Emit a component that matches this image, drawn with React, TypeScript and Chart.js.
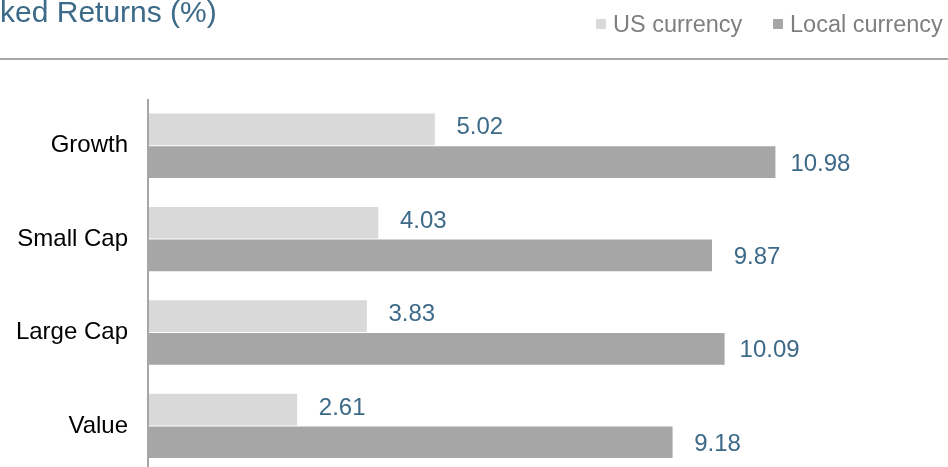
import React, { useEffect, useRef } from "react";
import { Chart, registerables } from "chart.js";

Chart.register(...registerables);

const categories = ["Growth", "Small Cap", "Large Cap", "Value"];
const usCurrency = [5.02, 4.03, 3.83, 2.61];
const localCurrency = [10.98, 9.87, 10.09, 9.18];
const seriesNames = ["US currency", "Local currency"];
const titleText = "Ranked Returns (%)";

const FONT = '"Liberation Sans", Arial, sans-serif';
const US_COLOR = "#d9d9d9";
const LOCAL_COLOR = "#a6a6a6";
const LABEL_COLOR = "#3d6a88";

const decorPlugin = {
  id: "decor",
  afterDraw(chart: any) {
    const ctx = chart.ctx;
    ctx.save();
    ctx.textBaseline = "alphabetic";
    // title
    ctx.font = `30px ${FONT}`;
    ctx.fillStyle = LABEL_COLOR;
    ctx.textAlign = "left";
    ctx.fillText(titleText, -55, 22);
    // rule
    ctx.fillStyle = "#a6a6a6";
    ctx.fillRect(0, 58, chart.width, 2);
    // legend
    const items = [
      { text: seriesNames[0], color: US_COLOR, box: 596 },
      { text: seriesNames[1], color: LOCAL_COLOR, box: 773 },
    ];
    ctx.font = `23.5px ${FONT}`;
    items.forEach((it) => {
      ctx.fillStyle = it.color;
      ctx.fillRect(it.box, 19, 10, 10);
      ctx.fillStyle = "#7f7f7f";
      ctx.fillText(it.text, it.box + 17, 32);
    });
    // data labels
    ctx.font = `24px ${FONT}`;
    ctx.fillStyle = LABEL_COLOR;
    ctx.textAlign = "center";
    chart.data.datasets.forEach((ds: any, di: number) => {
      const meta = chart.getDatasetMeta(di);
      meta.data.forEach((bar: any, i: number) => {
        const v = ds.data[i];
        const dy = di === 0 ? 5 : 8.5;
        ctx.fillText(v.toFixed(2), bar.x + 45, bar.y + dy);
      });
    });
    // axis line
    const a = chart.chartArea;
    ctx.fillStyle = "#a6a6a6";
    ctx.fillRect(a.left - 1, a.top, 2, a.bottom - a.top);
    ctx.restore();
  },
};

export default function App() {
  const ref = useRef<HTMLCanvasElement>(null);
  useEffect(() => {
    document.body.style.margin = "0";
    const chart = new Chart(ref.current!, {
      type: "bar",
      data: {
        labels: categories,
        datasets: [
          {
            label: seriesNames[0],
            data: usCurrency,
            backgroundColor: US_COLOR,
            categoryPercentage: 0.7,
            barPercentage: 0.97,
          },
          {
            label: seriesNames[1],
            data: localCurrency,
            backgroundColor: LOCAL_COLOR,
            categoryPercentage: 0.7,
            barPercentage: 0.97,
          },
        ],
      },
      options: {
        indexAxis: "y",
        animation: false,
        responsive: true,
        maintainAspectRatio: false,
        layout: { padding: { top: 99, bottom: 6, left: 0, right: 0 } },
        plugins: {
          legend: { display: false },
          title: { display: false },
          tooltip: { enabled: false },
        },
        scales: {
          x: {
            display: false,
            min: 0,
            max: 14,
          },
          y: {
            grid: { display: false, drawTicks: false },
            border: { display: false },
            ticks: {
              color: "#000000",
              font: { family: FONT, size: 24 },
              padding: 20,
            },
            afterFit(scale: any) {
              scale.width = 148;
            },
          },
        },
      },
      plugins: [decorPlugin],
    });
    return () => chart.destroy();
  }, []);
  return (
    <div style={{ width: 948, height: 467, overflow: "hidden", position: "relative", background: "#fff" }}>
      <div style={{ position: "absolute", left: 0, top: 0, width: 948, height: 507 }}>
        <canvas ref={ref} />
      </div>
    </div>
  );
}
